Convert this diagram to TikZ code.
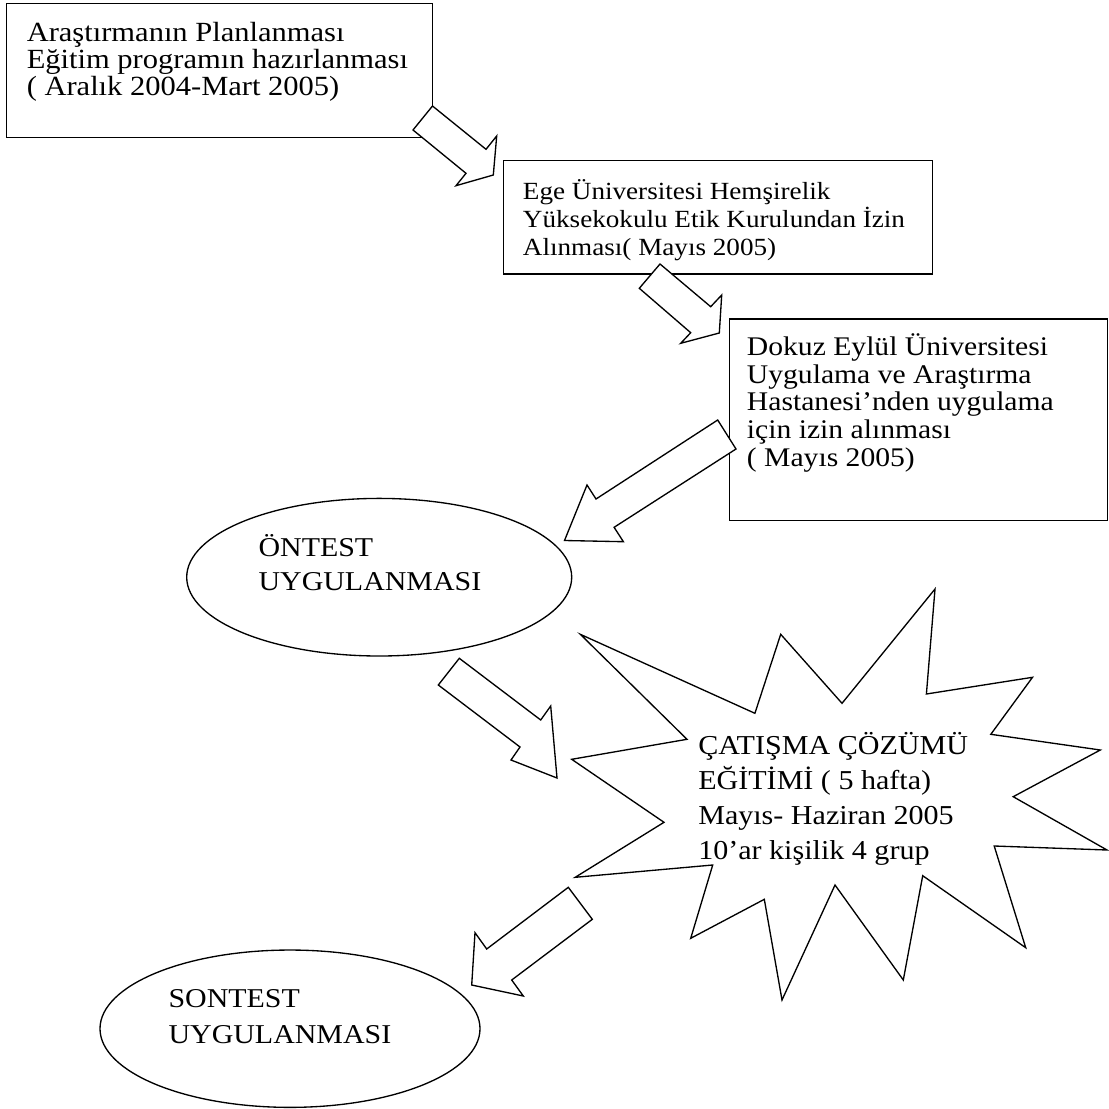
\documentclass[tikz,border=0pt]{standalone}
\usepackage{fontspec}
\setmainfont[FakeStretch=1.1]{Liberation Serif}
\usetikzlibrary{shapes.geometric}
\begin{document}
\begin{tikzpicture}[x=0.75pt,y=-0.75pt,
  stepbox/.style={draw, line width=1pt, rectangle, inner sep=0pt, anchor=north west},
  oval/.style={draw, line width=1pt, ellipse, inner sep=0pt},
  burst/.style={draw, fill=white, line width=1pt, line join=miter},
  blockarrow/.style={draw, fill=white, line width=1pt, line join=miter},
  % text blocks are placed by the baseline of their last line
  txt/.style={anchor=base west, inner sep=0pt, align=left}]
\useasboundingbox (0,0) rectangle (1109,1109);

% process boxes
\node[stepbox, minimum width=319.5pt, minimum height=100.5pt] (b1) at (6,3) {};
\node[stepbox, minimum width=321.75pt, minimum height=85.1pt] (b2) at (503,160) {};
\node[stepbox, minimum width=283.5pt, minimum height=151.3pt] (b3) at (729,318.3) {};

% test ovals
\node[oval, minimum width=288.75pt, minimum height=118.2pt] (e1) at (379.2,577.2) {};
\node[oval, minimum width=285pt, minimum height=118pt] (e2) at (290,1028.7) {};

% training starburst
\draw[burst] (580.3,634.3) -- (754.9,713.3) -- (780.7,634.3) -- (842,703.3)
  -- (935,589) -- (926.4,694) -- (1032.5,677.3) -- (990.8,734.3)
  -- (1100.3,750) -- (1013.2,796.7) -- (1107,850) -- (994.2,846)
  -- (1025.7,947.7) -- (922.7,875.7) -- (903.3,980) -- (835,885)
  -- (782,1000) -- (764.3,899.3) -- (690.7,938.3) -- (712.7,865)
  -- (575.2,877.3) -- (664,822.3) -- (571.7,759.3) -- (687,739.3) -- cycle;

% block arrows between the steps
\draw[blockarrow] (432.5,106) -- (486,149.3) -- (496.7,136) -- (493.3,175)
  -- (456,185.7) -- (466,173.3) -- (413,130) -- cycle;
\draw[blockarrow] (660,264) -- (710.7,306.7) -- (721.7,295) -- (719.3,333)
  -- (680.7,343.3) -- (690.7,332.7) -- (639.3,288.3) -- cycle;
\draw[blockarrow] (717.7,420) -- (596,499) -- (587,485) -- (564.5,540.5)
  -- (623.4,541.7) -- (614.1,527.3) -- (736,449) -- cycle;
\draw[blockarrow] (459.3,658.3) -- (540.7,720) -- (550.7,706) -- (557,778)
  -- (511,760) -- (520,747) -- (438.3,685) -- cycle;
\draw[blockarrow] (568.3,887.3) -- (486.7,949) -- (475,932.7) -- (471.7,985)
  -- (523.3,996) -- (511.7,980) -- (592.3,919.3) -- cycle;

% texts
\node[txt, font=\fontsize{20.8}{20.6}\selectfont] (t1) at (26.5,96)
  {Araştırmanın Planlanması\\Eğitim programın hazırlanması\\( Aralık 2004-Mart 2005)};
\node[txt, font=\fontsize{18.5}{20.8}\selectfont] (t2) at (522.7,255)
  {Ege Üniversitesi Hemşirelik\\Yüksekokulu Etik Kurulundan İzin\\Alınması( Mayıs 2005)};
\node[txt, font=\fontsize{20.2}{20.9}\selectfont] (t3) at (746.7,466.7)
  {Dokuz Eylül Üniversitesi\\Uygulama ve Araştırma\\Hastanesi’nden uygulama\\için izin alınması\\( Mayıs 2005)};
\node[txt, font=\fontsize{20.4}{25.5}\selectfont] (t4) at (258.3,590.7)
  {ÖNTEST\\UYGULANMASI};
\node[txt, font=\fontsize{20.5}{26.25}\selectfont] (t5) at (698,859)
  {ÇATIŞMA ÇÖZÜMÜ\\EĞİTİMİ ( 5 hafta)\\Mayıs- Haziran 2005\\10’ar kişilik 4 grup};
\node[txt, font=\fontsize{20.4}{27}\selectfont] (t6) at (168.3,1043.3)
  {SONTEST\\UYGULANMASI};
\end{tikzpicture}
\end{document}
